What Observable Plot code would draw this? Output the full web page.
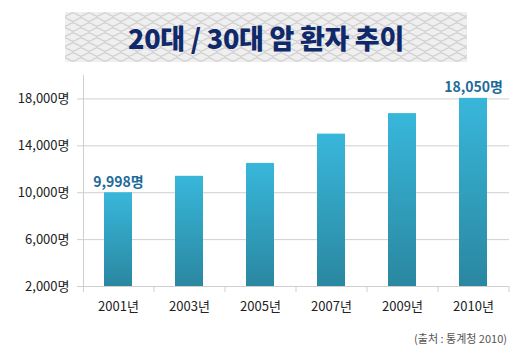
<!DOCTYPE html>
<html>
<head>
<meta charset="utf-8">
<script src="https://cdn.jsdelivr.net/npm/d3@7"></script>
<script src="https://cdn.jsdelivr.net/npm/@observablehq/plot@0.6"></script>
<style>
  html, body { margin: 0; padding: 0; background: #fff; }
  #wrap { position: relative; width: 529px; height: 354px; overflow: hidden; font-family: "Noto Sans CJK KR", "Noto Sans", sans-serif; }
  #title {
    position: absolute; left: 65px; top: 12px; width: 402px; height: 50px;
    background-color: #efefef;
    background-image: url("data:image/svg+xml;utf8,<svg xmlns='http://www.w3.org/2000/svg' width='16' height='10'><path d='M0 5 Q8 -3 16 5 M0 5 Q8 13 16 5 M-8 0 Q0 8 8 0 M8 0 Q16 8 24 0 M-8 10 Q0 2 8 10 M8 10 Q16 2 24 10' fill='none' stroke='%23d2d2d2' stroke-width='1'/></svg>");
    display: flex; align-items: center; justify-content: center;
    font-weight: 900; font-size: 27px; color: #10296b; letter-spacing: -0.3px;
  }
  #caption { position: absolute; right: 22px; top: 330px; font-size: 11px; color: #555; }
  #chart { position: absolute; left: 0; top: 0; }
</style>
</head>
<body>
<div id="wrap">
  <div id="chart"></div>
  <div id="title">20대 / 30대 암 환자 추이</div>
  <div id="caption">(출처 : 통계청 2010)</div>
</div>
<script>
const years = ["2001년", "2003년", "2005년", "2007년", "2009년", "2010년"];
const patients = [9998, 11400, 12500, 15000, 16750, 18050];
const yTicks = [2000, 6000, 10000, 14000, 18000];
const labelled = ["2001년", "2010년"];

const data = years.map((y, i) => ({year: y, value: patients[i]}));
const W = 529, H = 354, mL = 83, mR = 20;
const step = (W - mL - mR) / years.length;
const fmt = d3.format(",");

const plot = Plot.plot({
  width: W, height: H,
  marginLeft: mL, marginRight: mR, marginTop: 75, marginBottom: 68,
  style: {fontFamily: "'Noto Sans CJK KR', sans-serif", background: "transparent"},
  x: {domain: years, paddingInner: 0.6, paddingOuter: 0.3, label: null},
  y: {domain: [2000, 20000], label: null},
  marks: [
    Plot.gridY(yTicks, {stroke: "#cfcfcf", strokeOpacity: 1, insetLeft: -6}),
    Plot.ruleX(years, {x: d => d, dx: step / 2, stroke: "#cfcfcf", insetTop: 211, insetBottom: -6}),
    Plot.frame({anchor: "left", stroke: "#cfcfcf", insetBottom: -5}),
    Plot.barY(data, {x: "year", y1: 2000, y2: "value", fill: "url(#barGrad)"}),
    Plot.axisY(yTicks, {tickSize: 0, tickPadding: 14, tickFormat: d => fmt(d) + "명", fontSize: 13, fill: "#222"}),
    Plot.axisX({tickSize: 0, tickPadding: 15, fontSize: 13, fill: "#222"}),
    Plot.text(data.filter(d => labelled.includes(d.year)), {
      x: "year", y: "value", text: d => fmt(d.value) + "명",
      lineAnchor: "bottom", dy: -6, fill: "#1d6b98", fontWeight: "bold", fontSize: 14
    })
  ]
});

const svg = d3.select(plot);
const grad = svg.insert("defs", ":first-child").append("linearGradient")
  .attr("id", "barGrad").attr("x1", 0).attr("y1", 0).attr("x2", 0).attr("y2", 1);
grad.append("stop").attr("offset", "0%").attr("stop-color", "#38b7db");
grad.append("stop").attr("offset", "100%").attr("stop-color", "#2a87a0");
document.getElementById("chart").appendChild(plot);
</script>
</body>
</html>
